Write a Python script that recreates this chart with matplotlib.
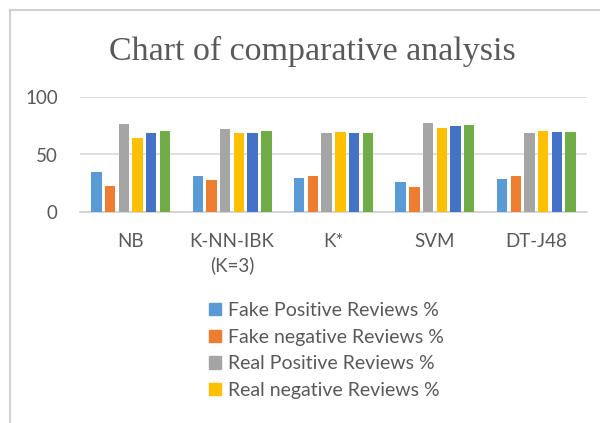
import matplotlib
matplotlib.use("Agg")
import matplotlib.pyplot as plt
from matplotlib.lines import Line2D
from matplotlib.patches import Rectangle
import numpy as np

# data
categories = ["NB", "K-NN-IBK\n(K=3)", "K*", "SVM", "DT-J48"]
series_names = ["Fake Positive Reviews %", "Fake negative Reviews %",
                "Real Positive Reviews %", "Real negative Reviews %",
                "Series 5", "Series 6"]
fake_pos = [35, 31, 29.7, 26, 29]
fake_neg = [23, 27.7, 31, 21.7, 31]
real_pos = [76.5, 72, 68.3, 77.8, 68.3]
real_neg = [64.6, 68.3, 69.8, 73.1, 70.6]
series5 = [68.3, 69.1, 69.1, 74.6, 69.8]
series6 = [70.3, 70, 68.9, 75.4, 69.4]
values = [fake_pos, fake_neg, real_pos, real_neg, series5, series6]
colors = ["#5B9BD5", "#ED7D31", "#A5A5A5", "#FFC000", "#4472C4", "#70AD47"]

text_color = "#595959"
plt.rcParams['font.family'] = ['Lato', 'DejaVu Sans']

fig = plt.figure(figsize=(6, 4.23), dpi=100)
ax = fig.add_axes([80/600, 1-212/423, (587-80)/600, (212-97)/423])

x = np.arange(len(categories))
pitch = 0.135
width = 0.103
for i, vals in enumerate(values):
    ax.bar(x + (i - 2.5)*pitch, vals, width=width, color=colors[i],
           label=series_names[i], zorder=3)

ax.set_xlim(-0.5, len(categories) - 0.5)
ax.set_ylim(0, 100)
ax.set_yticks([0, 50, 100])
ax.set_xticks(x)
ax.set_xticklabels(categories, linespacing=1.45)
ax.tick_params(axis='both', length=0, labelsize=13.5, labelcolor=text_color)
ax.tick_params(axis='x', pad=15)
ax.tick_params(axis='y', pad=16)
ax.yaxis.grid(True, color="#d9d9d9", linewidth=1.2, zorder=0)
for s in ["top", "right", "left"]:
    ax.spines[s].set_visible(False)
ax.spines["bottom"].set_color("#d0d0d0")
ax.spines["bottom"].set_linewidth(1.2)

fig.text(312/600, 1-60/423, "Chart of comparative analysis", ha='center', va='baseline',
         fontsize=24.5, color=text_color, family=['Liberation Serif'])

handles = [Rectangle((0, 0), 1, 1, color=c) for c in colors[:4]]
leg = fig.legend(handles, series_names[:4], loc='upper left',
                 bbox_to_anchor=(209/600, 1-302/423), frameon=False,
                 fontsize=14, handlelength=0.6, handleheight=0.6,
                 handletextpad=0.4, labelspacing=0.5, borderpad=0,
                 borderaxespad=0)
for t in leg.get_texts():
    t.set_color(text_color)

# chart frame (left and top edges visible)
fig.add_artist(Line2D([10/600, 10/600], [0, 1-10/423], transform=fig.transFigure,
                      color="#d0d0d0", linewidth=1.5))
fig.add_artist(Line2D([10/600, 1], [1-10/423, 1-10/423], transform=fig.transFigure,
                      color="#d0d0d0", linewidth=1.5))

fig.savefig("out.png", dpi=100, facecolor="white")
